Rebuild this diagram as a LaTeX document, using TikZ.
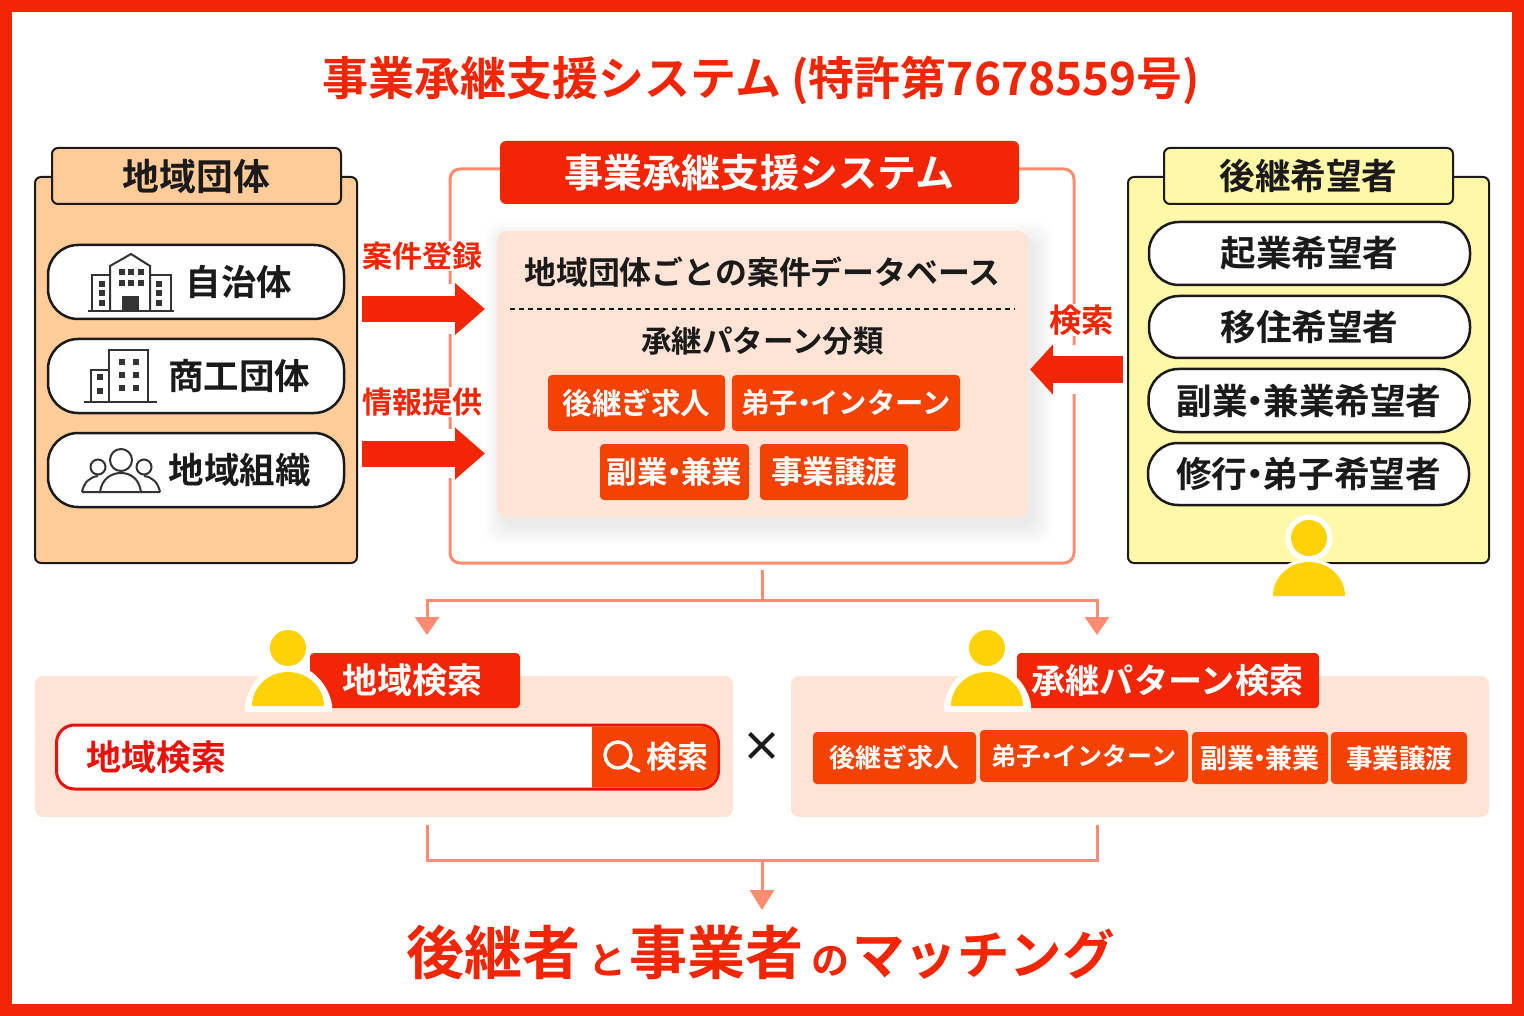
\documentclass[tikz,border=0pt]{standalone}
\usepackage{fontspec}
\usetikzlibrary{arrows.meta,calc}
\setmainfont[BoldFont={Noto Sans CJK JP Bold}]{Noto Sans CJK JP}
\newcommand{\fs}[1]{\fontsize{#1}{#1}\selectfont}
\newcommand{\nd}{\hspace{-.28em}・\hspace{-.28em}}
\definecolor{bred}{HTML}{F22605}
\definecolor{tagor}{HTML}{F44104}
\definecolor{pane}{HTML}{FFE4D6}
\definecolor{conn}{HTML}{FF8B70}
\definecolor{peach}{HTML}{FFCC99}
\definecolor{lemon}{HTML}{FFF8A8}
\definecolor{gold}{HTML}{FFD208}
\definecolor{ink}{HTML}{1A1A1A}
\definecolor{icon}{HTML}{333333}
\definecolor{sred}{HTML}{EA1208}
\tikzset{
 card/.style={draw=ink,line width=2pt,rounded corners=6pt},
 pill/.style={draw=ink,line width=2.5pt,fill=white,rounded corners=30pt,text=ink,outer sep=0pt,inner sep=0pt},
 tagbox/.style={fill=tagor,text=white,rounded corners=4pt,outer sep=0pt,inner sep=0pt,font=\bfseries},
 lbl/.style={text=bred,font=\bfseries\fs{30},fill=white,inner sep=1pt,outer sep=0pt},
 txt/.style={inner sep=0pt,outer sep=0pt,font=\bfseries},
 conline/.style={draw=conn,line width=3pt},
 conarrow/.style={conline,-{Triangle[length=18pt,width=24pt]}},
 blockr/.style={draw=bred,line width=26pt,-{Triangle[length=30pt,width=50pt]}},
 blockl/.style={draw=bred,line width=26pt,-{Triangle[length=23pt,width=49pt]}},
 iconline/.style={draw=icon,line width=2pt},
 winbox/.style={fill=icon},
}
\newcommand{\winrect}[2]{\fill[winbox] (#1-3,#2-3) rectangle (#1+3,#2+3);}
\newcommand{\person}[3]{% x of centre, head y, body base y
 \fill[gold] (#1,#2) circle (18);
 \fill[gold] (#1-36,#3) arc[start angle=180,end angle=360,x radius=36,y radius=34] -- cycle;
}
\begin{document}
\begin{tikzpicture}[x=1pt,y=-1pt]
\useasboundingbox (0,0) rectangle (1524,1016);
\fill[bred] (0,0) rectangle (1524,1016);
\fill[white] (12,12) rectangle (1512,1004);

% title
\node[txt,text=bred,font=\bfseries\fs{46}] (title) at (761.5,80) {事業承継支援システム\hspace{.22em}(特許第7678559号)};

% left panel
\node[card,fill=peach,minimum width=322,minimum height=386,outer sep=0pt] (lpanel) at (196,370) {};
\node[card,fill=peach,minimum width=289,minimum height=56,text=ink,font=\bfseries\fs{36.8}] (lhead) at (196.5,176) {地域団体};
\node[pill,minimum width=296,minimum height=74] (p1) at (196,282) {};
\node[pill,minimum width=296,minimum height=74] (p2) at (196,376) {};
\node[pill,minimum width=296,minimum height=74] (p3) at (196,470) {};
\node[txt,text=ink,font=\bfseries\fs{35.5}] (t1) at (239,282) {自治体};
\node[txt,text=ink,font=\bfseries\fs{35.5}] (t2) at (239,376) {商工団体};
\node[txt,text=ink,font=\bfseries\fs{35.5}] (t3) at (239.5,470) {地域組織};

% icon: town hall
\draw[iconline] (88,311) -- (174,311);
\draw[iconline] (110,311) -- (92,311) (92,311) -- (92,275) -- (110,275);
\draw[iconline] (150,275) -- (171,275) -- (171,311);
\draw[iconline] (110,311) -- (110,266) -- (131,254) -- (150,266) -- (150,311);
\fill[icon] (122,296) rectangle (139,311);
\foreach \x in {122,131,141} \foreach \y in {272,283} {\winrect{\x}{\y}}
\foreach \y in {284,293,303} {\winrect{102}{\y}\winrect{159}{\y}}
% icon: office
\draw[iconline] (84,402) -- (157,402);
\draw[iconline] (91,402) -- (91,370) -- (109,370);
\draw[iconline] (109,402) -- (109,350) -- (148,350) -- (148,402);
\foreach \x in {122,136} \foreach \y in {362,375,388} {\winrect{\x}{\y}}
\foreach \y in {377,391} {\winrect{100}{\y}}
% icon: people
\draw[iconline] (121,460) circle (11);
\draw[iconline] (98,467) circle (7.5);
\draw[iconline] (144,467) circle (7.5);
\draw[iconline] (100,492) .. controls (102,478) and (112,473) .. (121,473) .. controls (130,473) and (139,478) .. (141,492) -- cycle;
\draw[iconline] (82,492) .. controls (84,482) and (90,477) .. (98,476) (100,492) -- (82,492);
\draw[iconline] (160,492) .. controls (158,482) and (152,477) .. (144,476) (141,492) -- (160,492);

% central frame
\node[draw=conn,line width=3pt,rounded corners=10pt,minimum width=624,minimum height=394,outer sep=0pt] (frame) at (762,366) {};
\node[fill=bred,text=white,rounded corners=6pt,minimum width=519,minimum height=63,inner sep=0pt,outer sep=0pt,font=\bfseries\fs{39.1}] (fhead) at (759.5,172.5) {事業承継支援システム};
% shadow
\foreach \i in {0,...,19} {
 \fill[black,opacity=.005,rounded corners=14pt] (497+6-\i,231+9-\i) rectangle (1028+6+\i,517+9+\i);
}
\node[fill=pane,rounded corners=10pt,minimum width=531,minimum height=286,inner sep=0pt,outer sep=0pt] (db) at (762.5,374) {};
\node[txt,text=ink,font=\bfseries\fs{31.9}] (dbt) at (762.5,272) {地域団体ごとの案件データベース};
\coordinate (dl) at (510,309);
\coordinate (dr) at (1015,309);
\draw[ink,line width=1.5pt,dash pattern=on 5pt off 4pt] (dl) -- (dr);
\node[txt,text=ink,font=\bfseries\fs{30.5}] (pat) at (762.5,341) {承継パターン分類};
\node[tagbox,minimum width=177,minimum height=56,font=\bfseries\fs{29.6}] (c1) at (636.5,403) {後継ぎ求人};
\node[tagbox,minimum width=228,minimum height=56,font=\bfseries\fs{28.3}] (c2) at (846,403) {弟子\nd インターン};
\node[tagbox,minimum width=149,minimum height=56,font=\bfseries\fs{30.5}] (c3) at (674.5,472) {副業\nd 兼業};
\node[tagbox,minimum width=148,minimum height=56,font=\bfseries\fs{31.5}] (c4) at (834,472) {事業譲渡};

% right panel
\node[card,fill=lemon,minimum width=361,minimum height=386,outer sep=0pt] (rpanel) at (1308.5,370) {};
\node[card,fill=lemon,minimum width=289,minimum height=56,text=ink,font=\bfseries\fs{35.6}] (rhead) at (1308.5,176) {後継希望者};
\node[pill,minimum width=321,minimum height=63,font=\bfseries\fs{35.6}] (r1) at (1309.5,253.5) {起業希望者};
\node[pill,minimum width=321,minimum height=62,font=\bfseries\fs{35.6}] (r2) at (1309.5,327) {移住希望者};
\node[pill,minimum width=321,minimum height=63,font=\bfseries\fs{35.6}] (r3) at (1309,400.5) {副業\nd 兼業希望者};
\node[pill,minimum width=321,minimum height=62,font=\bfseries\fs{35.6}] (r4) at (1308.5,474) {修行\nd 弟子希望者};
% person on right
\fill[white] (1309,538) circle (23.5);
\fill[white] (1265,600) arc[start angle=180,end angle=360,x radius=44,y radius=41] -- cycle;
\person{1309}{538}{596}

% labels and block arrows
\node[lbl] (l1) at (422,256) {案件登録};
\node[lbl] (l2) at (422,402) {情報提供};
\node[lbl,font=\bfseries\fs{32.5}] (l3) at (1081.5,320) {検索};
\coordinate (a1s) at (362,309); \coordinate (a1e) at (485,309);
\coordinate (a2s) at (362,453.5); \coordinate (a2e) at (485,453.5);
\coordinate (a3s) at (1123,369.5); \coordinate (a3e) at (1030,369.5);
\fill[white] (448,284) rectangle (453,334);
\fill[white] (448,429) rectangle (453,478);
\fill[white] (1072,345) rectangle (1077,394);
\draw[blockr] (a1s) -- (a1e);
\draw[blockr] (a2s) -- (a2e);
\draw[blockl] (a3s) -- (a3e);

% connectors from system
\coordinate (st) at (762,570); \coordinate (fork) at (762,600);
\coordinate (tl) at (427,635); \coordinate (tr) at (1097,635);
\draw[conline] (st) -- (fork);
\draw[conarrow] (fork) -| (tl);
\draw[conarrow] (fork) -| (tr);

% lower panes
\node[fill=pane,rounded corners=8pt,minimum width=698,minimum height=141,inner sep=0pt,outer sep=0pt] (lp) at (384,746.5) {};
\node[fill=pane,rounded corners=8pt,minimum width=698,minimum height=141,inner sep=0pt,outer sep=0pt] (rp) at (1140,746.5) {};
\node[fill=bred,rounded corners=4pt,minimum width=210,minimum height=55,inner sep=0pt,outer sep=0pt] (lt) at (415,680.5) {};
\node[txt,text=white,font=\bfseries\fs{35}] (ltt) at (412.5,680.5) {地域検索};
\node[fill=bred,rounded corners=4pt,minimum width=302,minimum height=55,inner sep=0pt,outer sep=0pt] (rt) at (1168,680.5) {};
\node[txt,text=white,font=\bfseries\fs{34.2}] (rtt) at (1167.5,680.5) {承継パターン検索};
% persons on tags
\fill[white] (245,712) -- (245,705) .. controls (248,685) and (265,664) .. (288,664) .. controls (311,664) and (329,685) .. (332,705) -- (332,712) -- cycle;
\fill[white] (288,648) circle (22);
\person{288}{648}{706}
\fill[white] (944,712) -- (944,705) .. controls (947,685) and (964,664) .. (987,664) .. controls (1010,664) and (1028,685) .. (1031,705) -- (1031,712) -- cycle;
\fill[white] (987,648) circle (22);
\person{987}{648}{706}
% search bar
\node[draw=sred,line width=3pt,fill=white,rounded corners=18pt,minimum width=662,minimum height=64,inner sep=0pt,outer sep=0pt] (bar) at (387.5,757) {};
\fill[tagor] (592,726.5) -- (700,726.5) arc[start angle=-90,end angle=0,radius=17.5] -- (717.5,770) arc[start angle=0,end angle=90,radius=17.5] -- (592,787.5) -- cycle;
\node[txt,text=sred,font=\bfseries\fs{35}] (bart) at (156,757) {地域検索};
\draw[white,line width=3.5pt] (618,755) circle (13);
\draw[white,line width=3.5pt,line cap=round] (627,765) -- (639,771);
\node[txt,text=white,font=\bfseries\fs{31}] (btn) at (677,757) {検索};
\node[txt,text=ink,font=\bfseries\fs{41}] (times) at (762,747) {×};
% small tags
\node[tagbox,minimum width=163,minimum height=52,font=\bfseries\fs{26}] (s1) at (894.5,758) {後継ぎ求人};
\node[tagbox,minimum width=208,minimum height=52,font=\bfseries\fs{25}] (s2) at (1084,756) {弟子\nd インターン};
\node[tagbox,minimum width=136,minimum height=52,font=\bfseries\fs{27}] (s3) at (1260,758) {副業\nd 兼業};
\node[tagbox,minimum width=136,minimum height=52,font=\bfseries\fs{26.5}] (s4) at (1399,758) {事業譲渡};

% merge connectors
\coordinate (ml) at (427,825); \coordinate (mr) at (1097,825);
\coordinate (mc) at (762,860); \coordinate (mt) at (762,910);
\draw[conline] (ml) |- (mc);
\draw[conline] (mr) |- (mc);
\draw[conline,-{Triangle[length=20pt,width=24pt]}] (mc) -- (mt);

% result
\node[txt,text=bred,font=\bfseries] (result) at (760.5,952) {\fs{58}後継者\hspace{8pt}\fs{38}と\hspace{3pt}\fs{58}事業者\hspace{8pt}\fs{38}の\hspace{3pt}\fs{52.5}マッチング};
\end{tikzpicture}
\end{document}
